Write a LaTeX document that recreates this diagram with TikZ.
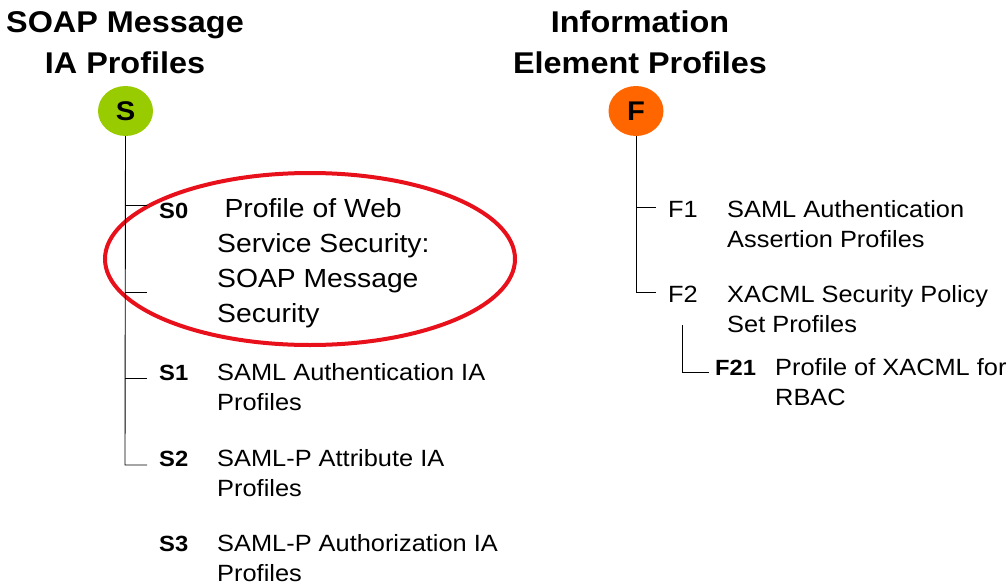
\documentclass[tikz,border=0pt]{standalone}
\usepackage{fontspec}
\setmainfont{Liberation Sans}[FakeStretch=1.08]
\definecolor{profgreen}{RGB}{153,204,0}
\definecolor{proforange}{RGB}{255,102,0}
\definecolor{markred}{RGB}{232,16,26}
\tikzset{
  hdr/.style={anchor=base, align=center, inner sep=0pt,
    font=\fontsize{30}{40}\selectfont\bfseries},
  badge/.style={ellipse, minimum width=55pt, minimum height=50pt, inner sep=0pt,
    font=\fontsize{27}{27}\selectfont\bfseries},
  tag/.style={anchor=base west, inner sep=0pt,
    font=\fontsize{22}{30}\selectfont\bfseries},
  ptag/.style={anchor=base west, inner sep=0pt,
    font=\fontsize{23.5}{31}\selectfont},
  % multi-line texts are placed by the baseline of their last line
  item/.style={anchor=base west, align=left, inner sep=0pt,
    font=\fontsize{23.5}{30.5}\selectfont},
  bigitem/.style={anchor=base west, align=left, inner sep=0pt,
    font=\fontsize{26.2}{34.7}\selectfont},
  branch/.style={draw=black, line width=0.9pt},
  ring/.style={draw=markred, line width=4pt}
}
\usetikzlibrary{shapes.geometric}
\begin{document}
\begin{tikzpicture}[x=1pt, y=-1pt]
  \useasboundingbox (0,0) rectangle (1008,586);

  % column headings
  \node[hdr] (hs) at (125,73) {SOAP Message\\IA Profiles};
  \node[hdr] (hf) at (640,73) {Information\\Element Profiles};

  % root badges
  \node[badge, fill=profgreen] (S) at (125.5,111) {S};
  \node[badge, fill=proforange] (F) at (636,111) {F};

  % SOAP message profiles
  \node[tag] (s0) at (159,218) {S0};
  \node[bigitem] (s0t) at (217,322) {\hspace*{0.28em}Profile of Web\\Service Security:\\SOAP Message\\Security};
  \node[tag] (s1) at (159,380) {S1};
  \node[item] (s1t) at (217,410.5) {SAML Authentication IA\\Profiles};
  \node[tag] (s2) at (159,466) {S2};
  \node[item] (s2t) at (217,496.5) {SAML-P Attribute IA\\Profiles};
  \node[tag] (s3) at (159,551) {S3};
  \node[item] (s3t) at (217,581.5) {SAML-P Authorization IA\\Profiles};

  % highlight round S0
  \node[ring, ellipse, minimum width=410pt, minimum height=172pt] (hl) at (310,259) {};

  % information element profiles
  \node[ptag] (f1) at (668,217) {F1};
  \node[item] (f1t) at (727,247.5) {SAML Authentication\\Assertion Profiles};
  \node[ptag] (f2) at (668,302) {F2};
  \node[item] (f2t) at (727,332.5) {XACML Security Policy\\Set Profiles};
  \node[tag] (f21) at (715,375) {F21};
  \node[item] (f21t) at (775,405.5) {Profile of XACML for\\RBAC};

  % tree branches, left
  \coordinate (sj0) at (125,205);
  \coordinate (sj0b) at (125,292);
  \coordinate (sj1) at (125,378);
  \coordinate (sj2) at (125,465);
  \draw[branch] (S.south) -- (sj2) -- ++(22,0);
  \draw[branch] (sj0) -- ++(22,0);
  \draw[branch] (sj0b) -- ++(22,0);
  \draw[branch] (sj1) -- ++(22,0);

  % tree branches, right
  \coordinate (fj1) at (636,207);
  \coordinate (fj2) at (636,292);
  \draw[branch] (F.south) -- (fj2) -- ++(20,0);
  \draw[branch] (fj1) -- ++(20,0);
  \coordinate (fk0) at (682,325);
  \coordinate (fk1) at (682,372);
  \draw[branch] (fk0) -- (fk1) -- ++(27,0);
\end{tikzpicture}
\end{document}
